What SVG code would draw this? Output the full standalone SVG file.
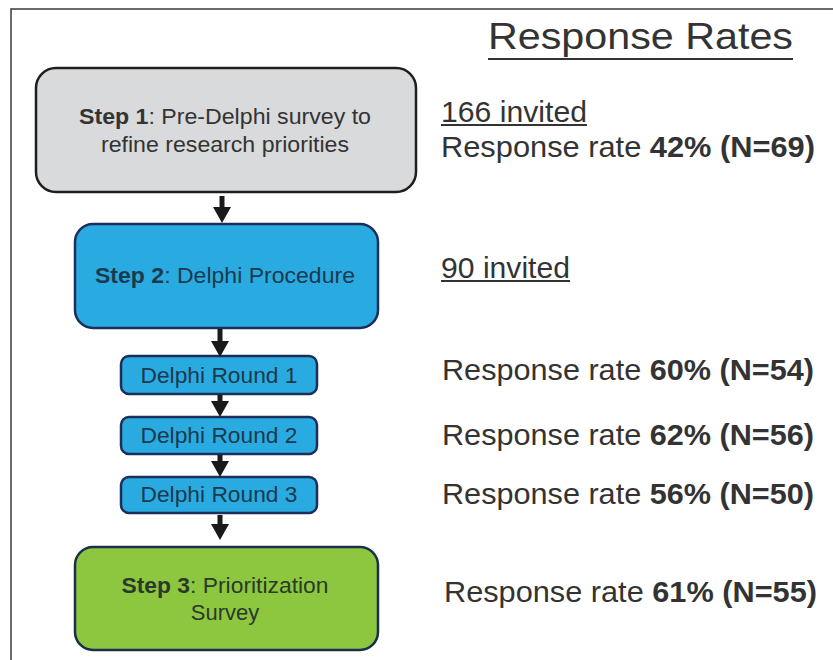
<svg xmlns="http://www.w3.org/2000/svg" width="833" height="660" viewBox="0 0 833 660">
  <defs>
    <marker id="head" markerUnits="userSpaceOnUse" markerWidth="16" markerHeight="20" viewBox="0 -10 16 20" refX="0" refY="0" orient="auto">
      <path d="M0,-9 L16,0 L0,9 z" fill="#1a1a1a"/>
    </marker>
    <style>
      .box-grey { fill: #d9dadc; stroke: #1e1e1e; stroke-width: 2.5; }
      .box-blue { fill: #29abe2; stroke: #1c2f5a; stroke-width: 2.5; }
      .box-green { fill: #8dc63f; stroke: #1c2f4a; stroke-width: 2.5; }
      .lbl { font-family: "Liberation Sans", Arial, sans-serif; text-anchor: middle; }
      .lbl-grey { fill: #333333; }
      .lbl-blue { fill: #1b3a4e; }
      .lbl-green { fill: #2a3a2a; }
      .rate { font-family: "Liberation Sans", Arial, sans-serif; font-size: 30px; fill: #333333; }
      .b { font-weight: bold; }
      .conn { stroke: #1a1a1a; stroke-width: 5; fill: none; marker-end: url(#head); }
      .uline { stroke: #333333; stroke-width: 2.2; }
    </style>
  </defs>

  <rect x="0" y="0" width="833" height="660" fill="#ffffff"/>

  <!-- frame: top and left edges -->
  <path d="M11,660 V9 H833" fill="none" stroke="#3a3a3a" stroke-width="1.5"/>

  <!-- process steps -->
  <g id="step1">
    <rect class="box-grey" x="36" y="68" width="380" height="124" rx="20"/>
    <text class="lbl lbl-grey" font-size="22" x="225" y="124" textLength="292" lengthAdjust="spacingAndGlyphs"><tspan class="b">Step 1</tspan>: Pre-Delphi survey to</text>
    <text class="lbl lbl-grey" font-size="22" x="225" y="152" textLength="248" lengthAdjust="spacingAndGlyphs">refine research priorities</text>
  </g>

  <g id="step2">
    <rect class="box-blue" x="75" y="224" width="303" height="104" rx="18"/>
    <text class="lbl lbl-blue" font-size="22" x="225" y="283" textLength="260" lengthAdjust="spacingAndGlyphs"><tspan class="b">Step 2</tspan>: Delphi Procedure</text>
  </g>

  <g id="round1">
    <rect class="box-blue" x="121" y="356" width="196" height="38" rx="8"/>
    <text class="lbl lbl-blue" font-size="22" x="219" y="383" textLength="157" lengthAdjust="spacingAndGlyphs">Delphi Round 1</text>
  </g>

  <g id="round2">
    <rect class="box-blue" x="121" y="417" width="196" height="37" rx="8"/>
    <text class="lbl lbl-blue" font-size="22" x="219" y="443" textLength="157" lengthAdjust="spacingAndGlyphs">Delphi Round 2</text>
  </g>

  <g id="round3">
    <rect class="box-blue" x="121" y="477" width="196" height="36" rx="8"/>
    <text class="lbl lbl-blue" font-size="22" x="219" y="502" textLength="157" lengthAdjust="spacingAndGlyphs">Delphi Round 3</text>
  </g>

  <g id="step3">
    <rect class="box-green" x="75" y="547" width="303" height="103" rx="18"/>
    <text class="lbl lbl-green" font-size="22" x="225" y="593" textLength="207" lengthAdjust="spacingAndGlyphs"><tspan class="b">Step 3</tspan>: Prioritization</text>
    <text class="lbl lbl-green" font-size="22" x="225" y="620">Survey</text>
  </g>

  <!-- connectors between steps -->
  <g id="connectors">
    <line class="conn" x1="222" y1="196" x2="222" y2="207"/>
    <line class="conn" x1="220" y1="329" x2="220" y2="341"/>
    <line class="conn" x1="220" y1="395" x2="220" y2="401"/>
    <line class="conn" x1="220" y1="455" x2="220" y2="461"/>
    <line class="conn" x1="220" y1="515" x2="220" y2="524"/>
  </g>

  <!-- response rate panel -->
  <g id="rates">
    <text font-family="Liberation Sans, Arial, sans-serif" font-size="37" fill="#333333" x="488" y="49" textLength="305" lengthAdjust="spacingAndGlyphs">Response Rates</text>
    <line class="uline" x1="488" y1="59" x2="793" y2="59" stroke-width="2.5"/>

    <text class="rate" x="441" y="122" textLength="146" lengthAdjust="spacingAndGlyphs">166 invited</text>
    <line class="uline" x1="441" y1="125" x2="587" y2="125"/>
    <text class="rate" x="441" y="157" textLength="374" lengthAdjust="spacingAndGlyphs">Response rate <tspan class="b">42% (N=69)</tspan></text>

    <text class="rate" x="441" y="278" textLength="129" lengthAdjust="spacingAndGlyphs">90 invited</text>
    <line class="uline" x1="441" y1="281" x2="570" y2="281"/>

    <text class="rate" x="442" y="380" textLength="372" lengthAdjust="spacingAndGlyphs">Response rate <tspan class="b">60% (N=54)</tspan></text>
    <text class="rate" x="442" y="445" textLength="372" lengthAdjust="spacingAndGlyphs">Response rate <tspan class="b">62% (N=56)</tspan></text>
    <text class="rate" x="442" y="504" textLength="372" lengthAdjust="spacingAndGlyphs">Response rate <tspan class="b">56% (N=50)</tspan></text>
    <text class="rate" x="444" y="602" textLength="373" lengthAdjust="spacingAndGlyphs">Response rate <tspan class="b">61% (N=55)</tspan></text>
  </g>
</svg>
